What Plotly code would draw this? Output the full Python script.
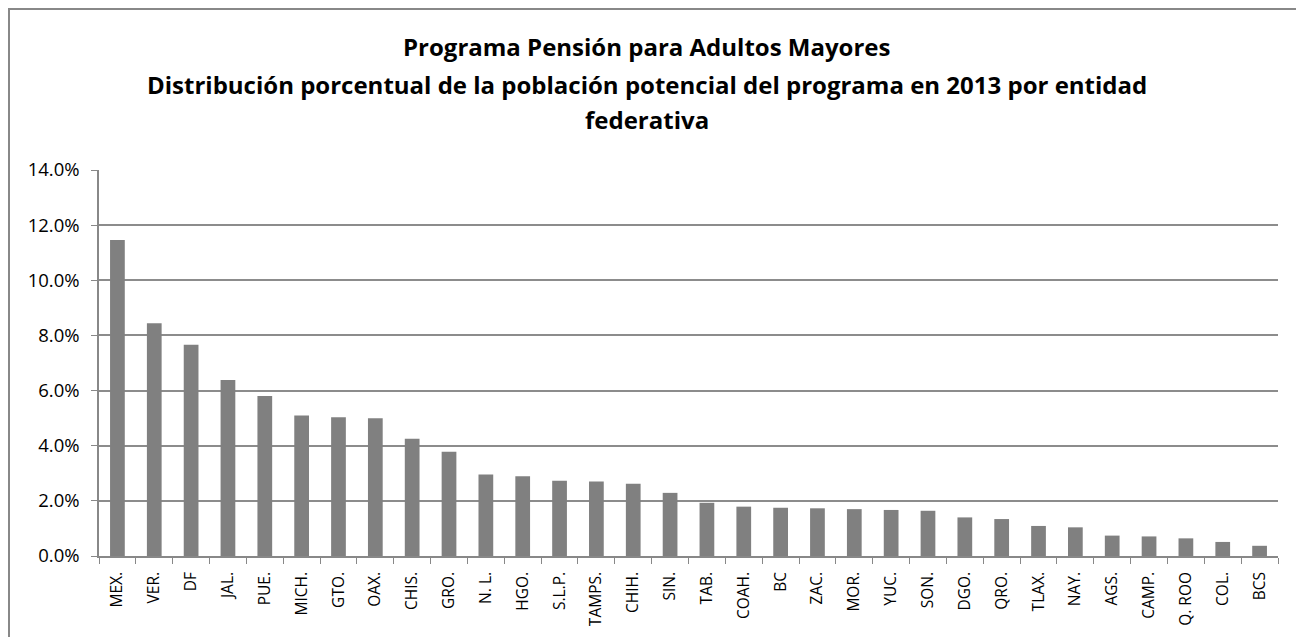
import plotly.graph_objects as go

estados = ["MEX.", "VER.", "DF", "JAL.", "PUE.", "MICH.", "GTO.", "OAX.", "CHIS.", "GRO.",
           "N. L.", "HGO.", "S.L.P.", "TAMPS.", "CHIH.", "SIN.", "TAB.", "COAH.", "BC", "ZAC.",
           "MOR.", "YUC.", "SON.", "DGO.", "QRO.", "TLAX.", "NAY.", "AGS.", "CAMP.", "Q. ROO",
           "COL.", "BCS"]
porcentajes = [11.46, 8.44, 7.66, 6.38, 5.80, 5.10, 5.03, 5.00, 4.25, 3.78,
               2.96, 2.89, 2.73, 2.70, 2.62, 2.29, 1.93, 1.79, 1.75, 1.73,
               1.70, 1.67, 1.64, 1.40, 1.34, 1.09, 1.04, 0.74, 0.71, 0.64,
               0.51, 0.37]
y_ticks = [0, 2, 4, 6, 8, 10, 12, 14]
y_labels = [f"{v:.1f}%" for v in y_ticks]

titulo_lineas = [
    "Programa Pensión para Adultos Mayores",
    "Distribución porcentual de la población potencial del programa en 2013 por entidad",
    "federativa",
]
FONT = "Open Sans, Liberation Sans, sans-serif"

fig = go.Figure(go.Bar(
    x=estados, y=porcentajes,
    marker=dict(color="#808080", line=dict(width=0)),
))

W, H = 1296, 637
L, R, T, B = 99, 18, 170, 81
pw, ph = W - L - R, H - T - B

fig.update_layout(
    width=W, height=H,
    margin=dict(l=L, r=R, t=T, b=B, pad=0),
    paper_bgcolor="white", plot_bgcolor="white",
    bargap=0.6,
    showlegend=False,
    font=dict(family=FONT, color="black", size=16),
    xaxis=dict(
        type="category", tickangle=-90, ticks="outside", tickson="boundaries",
        ticklen=6, tickcolor="#888888", showline=True, linecolor="#888888", linewidth=1.5,
        showgrid=False, tickfont=dict(size=15.5), fixedrange=True, ticklabelstandoff=8,
    ),
    yaxis=dict(
        range=[0, 14], tickvals=y_ticks, ticktext=y_labels, ticks="outside", ticklen=6,
        tickcolor="#888888", showline=True, linecolor="#888888", linewidth=1.5,
        showgrid=True, gridcolor="#8c8c8c", gridwidth=1.5, zeroline=False,
        tickfont=dict(size=18.5), fixedrange=True, ticklabelstandoff=8,
    ),
)

# title lines as annotations (centre y in pixels from top)
for texto, ypx in zip(titulo_lineas, [47, 84, 119]):
    fig.add_annotation(
        text=f"<b>{texto}</b>", xref="paper", yref="paper",
        x=(647 - L) / pw, y=(H - B - ypx) / ph, xanchor="center", yanchor="middle",
        showarrow=False, font=dict(size=24, family=FONT, color="black"),
    )

fig.add_shape(
    type="rect", xref="paper", yref="paper", layer="below",
    x0=(9 - L) / pw, x1=(W + 20 - L) / pw,
    y0=(H - B - (H + 20)) / ph, y1=(H - B - 9) / ph,
    line=dict(color="#888888", width=2), fillcolor="rgba(0,0,0,0)",
)

fig.write_html(
    "out.html",
    config={"displayModeBar": False},
    post_script="document.body.style.margin='0';document.body.style.overflow='hidden';",
)
